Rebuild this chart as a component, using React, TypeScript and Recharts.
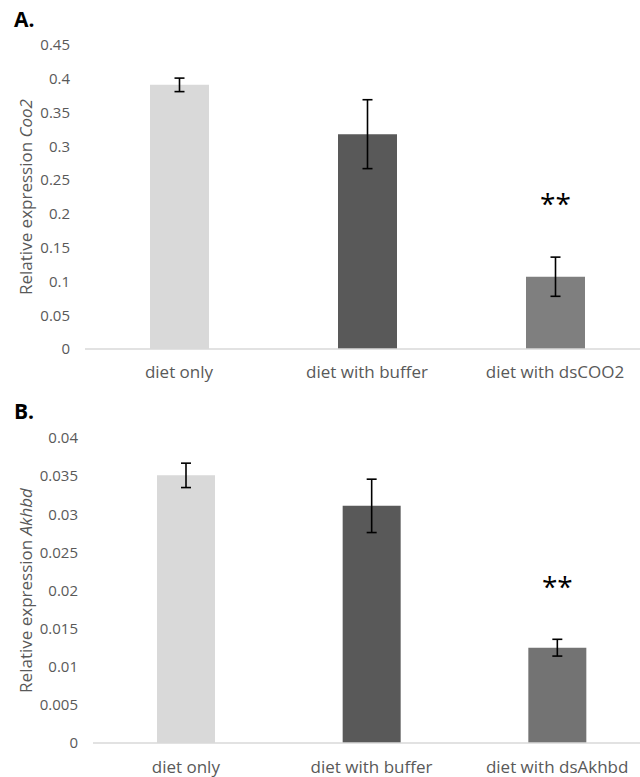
import React from 'react';
import { BarChart, Bar, XAxis, YAxis, ErrorBar, Cell, LabelList, Label } from 'recharts';

const categoriesA = ['diet only', 'diet with buffer', 'diet with dsCOO2'];
const coo2Mean = [0.391, 0.318, 0.107];
const coo2Err = [0.01, 0.051, 0.029];
const coo2Ticks = [0, 0.05, 0.1, 0.15, 0.2, 0.25, 0.3, 0.35, 0.4, 0.45];

const categoriesB = ['diet only', 'diet with buffer', 'diet with dsAkhbd'];
const akhbdMean = [0.0351, 0.0311, 0.0125];
const akhbdErr = [0.0016, 0.0035, 0.0011];
const akhbdTicks = [0, 0.005, 0.01, 0.015, 0.02, 0.025, 0.03, 0.035, 0.04];

const significance = ['', '', '**'];
const colorsA = ['#d9d9d9', '#595959', '#7f7f7f'];
const colorsB = ['#d9d9d9', '#595959', '#737373'];

const dataA = categoriesA.map((name, i) => ({ name, value: coo2Mean[i], err: coo2Err[i], sig: significance[i] }));
const dataB = categoriesB.map((name, i) => ({ name, value: akhbdMean[i], err: akhbdErr[i], sig: significance[i] }));

const textColor = '#595959';

const YLabel = (props: any) => {
  const { viewBox, main, gene } = props;
  const cx = 25;
  const cy = viewBox.y + viewBox.height / 2;
  return (
    <text
      x={cx}
      y={cy}
      transform={`rotate(-90, ${cx}, ${cy})`}
      textAnchor="middle"
      dominantBaseline="central"
      fill={textColor}
      fontSize={17}
    >
      {main}
      <tspan fontStyle="italic">{gene}</tspan>
    </text>
  );
};

const Stars = (props: any) => {
  const { x, y, width, value, lift } = props;
  if (!value) return null;
  return (
    <text x={x + width / 2} y={y - lift} textAnchor="middle" dominantBaseline="central" fontSize={28} fill="#000">
      {value}
    </text>
  );
};

type PanelProps = {
  data: any[];
  colors: string[];
  ticks: number[];
  gene: string;
  width: number;
  height: number;
  margin: { top: number; right: number; bottom: number; left: number };
  axisWidth: number;
  barSize: number;
  lift: number;
  labelGap: number;
};

const Panel = ({ data, colors, ticks, gene, width, height, margin, axisWidth, barSize, lift, labelGap }: PanelProps) => (
  <BarChart width={width} height={height} data={data} margin={margin}>
    <XAxis
      dataKey="name"
      height={30}
      axisLine={{ stroke: '#d9d9d9', strokeWidth: 1.5 }}
      tickLine={false}
      tick={{ fill: textColor, fontSize: 17 }}
      tickMargin={labelGap}
    />
    <YAxis
      domain={[ticks[0], ticks[ticks.length - 1]]}
      ticks={ticks}
      width={axisWidth}
      axisLine={false}
      tickLine={false}
      tick={{ fill: textColor, fontSize: 15 }}
      tickMargin={9}
      interval={0}
    >
      <Label content={(p: any) => <YLabel {...p} main="Relative expression " gene={gene} />} />
    </YAxis>
    <Bar dataKey="value" barSize={barSize} isAnimationActive={false}>
      {data.map((d, i) => (
        <Cell key={d.name} fill={colors[i]} />
      ))}
      <ErrorBar dataKey="err" width={5} stroke="#000" strokeWidth={1.6} />
      <LabelList dataKey="sig" content={(p: any) => <Stars {...p} lift={lift} />} />
    </Bar>
  </BarChart>
);

const panelLabel: React.CSSProperties = {
  position: 'absolute',
  left: 14,
  fontWeight: 700,
  fontSize: 21,
  color: '#000',
};

export default function App() {
  return (
    <div
      style={{
        position: 'absolute',
        left: 0,
        top: 0,
        width: 640,
        height: 777,
        overflow: 'hidden',
        background: '#fff',
        fontFamily: '"Open Sans", sans-serif',
      }}
    >
      <div style={{ ...panelLabel, top: 5 }}>A.</div>
      <div style={{ ...panelLabel, top: 397 }}>B.</div>
      <div style={{ position: 'absolute', left: 0, top: 0 }}>
        <Panel
          data={dataA}
          colors={colorsA}
          ticks={coo2Ticks}
          gene="Coo2"
          width={649}
          height={390}
          margin={{ top: 45, right: 0, bottom: 11, left: 0 }}
          axisWidth={85}
          barSize={59}
          lift={74}
          labelGap={11}
        />
      </div>
      <div style={{ position: 'absolute', left: 0, top: 390 }}>
        <Panel
          data={dataB}
          colors={colorsB}
          ticks={akhbdTicks}
          gene="Akhbd"
          width={650}
          height={387}
          margin={{ top: 48, right: 0, bottom: 4, left: 0 }}
          axisWidth={93}
          barSize={58}
          lift={62}
          labelGap={12}
        />
      </div>
    </div>
  );
}
